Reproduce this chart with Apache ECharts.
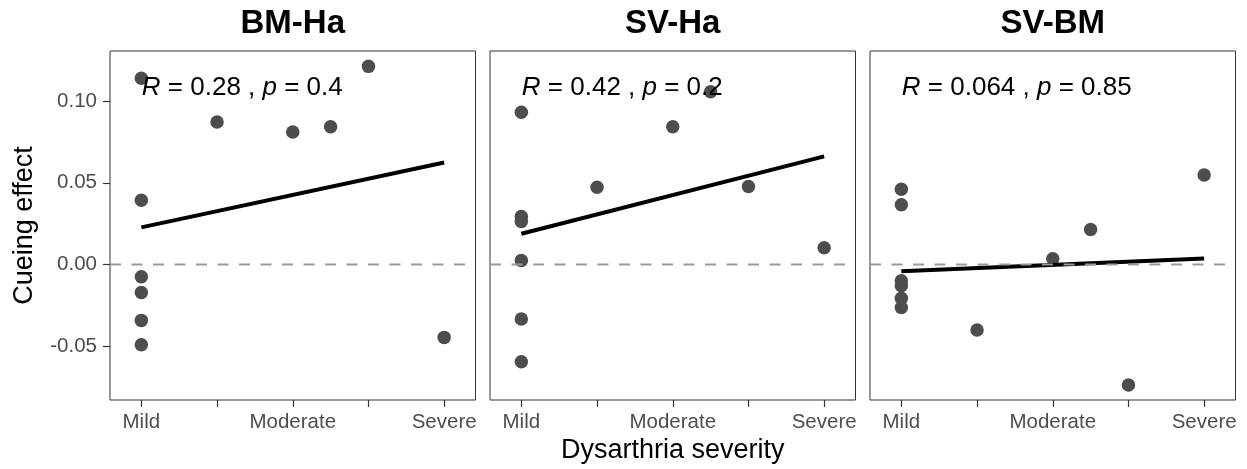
<!DOCTYPE html>
<html><head><meta charset="utf-8">
<script src="https://cdn.jsdelivr.net/npm/echarts@6/dist/echarts.min.js"></script>
<style>html,body{margin:0;padding:0;background:#fff}#c{width:1247px;height:469px}</style>
</head><body><div id="c"></div>
<script>
// ---- data ----
const panelTitles = ['BM-Ha', 'SV-Ha', 'SV-BM'];
const severityTickValues = [1, 2, 3, 4, 5];
const severityLabelValues = [1, 3, 5];
const severityLabels = ['Mild', 'Moderate', 'Severe'];
const effectTicks = [-0.05, 0, 0.05, 0.10];

const xBMHa = [1, 1, 1, 1, 1, 1, 2, 3, 3.5, 4, 5];
const yBMHa = [0.1139, 0.0393, -0.0075, -0.0171, -0.0342, -0.0491, 0.0872, 0.0811, 0.0843, 0.1212, -0.0446];
const xSVHa = [1, 1, 1, 1, 1, 1, 2, 3, 3.5, 4, 5];
const ySVHa = [0.0931, 0.0293, 0.0263, 0.0024, -0.0334, -0.0595, 0.0473, 0.0843, 0.1057, 0.0477, 0.0102];
const xSVBM = [1, 1, 1, 1, 1, 1, 2, 3, 3.5, 4, 5];
const ySVBM = [0.0460, 0.0365, -0.0100, -0.0130, -0.0206, -0.0263, -0.0401, 0.0035, 0.0214, -0.0737, 0.0548];

const fitX = [1, 5];
const fitBMHa = [0.0227, 0.0624];
const fitSVHa = [0.0188, 0.0661];
const fitSVBM = [-0.0041, 0.0036];

const rValues = ['0.28', '0.42', '0.064'];
const pValues = ['0.4', '0.2', '0.85'];
const annotX = 1;
const annotY = 0.1082;
const refLineY = 0;

const xLimits = [0.586, 5.414];
const yLimits = [-0.0829, 0.1306];

// ---- build ----
const xs = [xBMHa, xSVHa, xSVBM];
const ys = [yBMHa, ySVHa, ySVBM];
const fits = [fitBMHa, fitSVHa, fitSVBM];

const FONT = "'Liberation Sans', Arial, Helvetica, sans-serif";
const panelLefts = [110, 490, 870];
const panelWidth = 365.5;
const panelTop = 51;
const panelHeight = 349;

const chart = echarts.init(document.getElementById('c'), null, {renderer: 'canvas'});

const grids = [], xAxes = [], yAxes = [], series = [], graphics = [];
for (let i = 0; i < 3; i++) {
  grids.push({
    left: panelLefts[i], top: panelTop, width: panelWidth, height: panelHeight,
    show: true, borderColor: '#333333', borderWidth: 1, backgroundColor: '#ffffff',
    containLabel: false, outerBoundsMode: 'none'
  });
  xAxes.push({
    type: 'value', gridIndex: i, min: xLimits[0], max: xLimits[1], position: 'bottom',
    splitLine: {show: false},
    axisLine: {show: false, onZero: false},
    axisTick: {show: true, customValues: severityTickValues, length: 7, lineStyle: {color: '#333333', width: 1.2}},
    axisLabel: {
      show: true, customValues: severityLabelValues, margin: 12,
      color: '#4d4d4d', fontSize: 20.5, fontFamily: FONT,
      formatter: v => severityLabels[severityLabelValues.indexOf(Math.round(v))] || ''
    }
  });
  yAxes.push({
    type: 'value', gridIndex: i, min: yLimits[0], max: yLimits[1], position: 'left',
    splitLine: {show: false},
    axisLine: {show: false, onZero: false},
    axisTick: {show: i === 0, customValues: effectTicks, length: 7, lineStyle: {color: '#333333', width: 1.2}},
    axisLabel: {
      show: i === 0, customValues: effectTicks, margin: 13,
      color: '#4d4d4d', fontSize: 20.5, fontFamily: FONT,
      formatter: v => (Math.abs(v) < 1e-9 ? 0 : v).toFixed(2)
    }
  });
  series.push({
    type: 'scatter', xAxisIndex: i, yAxisIndex: i, z: 2, silent: true,
    symbolSize: 13.5, itemStyle: {color: '#4d4d4d', opacity: 1},
    data: xs[i].map((x, k) => [x, ys[i][k]])
  });
  series.push({
    type: 'line', xAxisIndex: i, yAxisIndex: i, z: 3, silent: true,
    symbol: 'none', lineStyle: {color: '#000000', width: 4},
    data: fitX.map((x, k) => [x, fits[i][k]])
  });
  series.push({
    type: 'line', xAxisIndex: i, yAxisIndex: i, z: 4, silent: true,
    symbol: 'none', lineStyle: {color: '#9a9a9a', width: 2, type: [11, 10.5]},
    data: [[xLimits[0], refLineY], [xLimits[1], refLineY]]
  });
  series.push({
    type: 'scatter', xAxisIndex: i, yAxisIndex: i, z: 5, silent: true,
    symbolSize: 1, itemStyle: {color: 'rgba(0,0,0,0)'},
    label: {
      show: true, position: 'right', distance: 0, color: '#000000', opacity: 1,
      formatter: '{i|R}{n| = ' + rValues[i] + ' , }{i|p}{n| = ' + pValues[i] + '}',
      rich: {
        i: {fontStyle: 'italic', fontSize: 26, fontFamily: FONT, color: '#000000'},
        n: {fontSize: 26, fontFamily: FONT, color: '#000000'}
      }
    },
    data: [[annotX, annotY]]
  });
  graphics.push({
    type: 'text', x: panelLefts[i] + panelWidth / 2, y: 23.5, silent: true,
    style: {text: panelTitles[i], font: "bold 33px " + FONT, fill: '#000', textAlign: 'center', textVerticalAlign: 'middle'}
  });
}
graphics.push({
  type: 'text', x: panelLefts[1] + panelWidth / 2, y: 451, silent: true,
  style: {text: 'Dysarthria severity', font: "27px " + FONT, fill: '#000', textAlign: 'center', textVerticalAlign: 'middle'}
});
graphics.push({
  type: 'text', x: 25, y: panelTop + panelHeight / 2, rotation: Math.PI / 2, silent: true,
  style: {text: 'Cueing effect', font: "27px " + FONT, fill: '#000', textAlign: 'center', textVerticalAlign: 'middle'}
});

chart.setOption({
  animation: false,
  backgroundColor: '#ffffff',
  grid: grids, xAxis: xAxes, yAxis: yAxes, series: series, graphic: graphics
});
</script>
</body></html>
